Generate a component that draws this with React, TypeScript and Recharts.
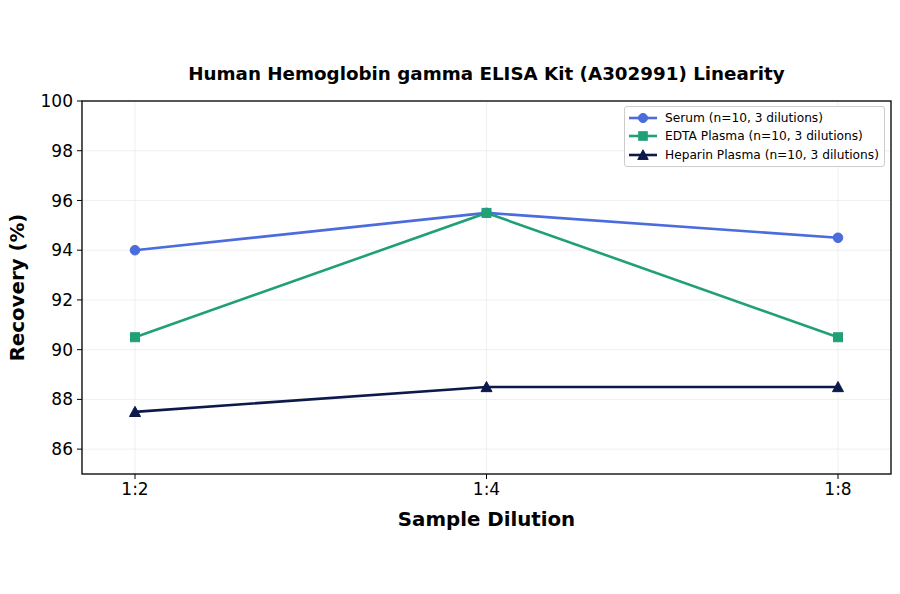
import React from 'react';
import { LineChart, Line, XAxis, YAxis, CartesianGrid, Label } from 'recharts';

const categories = ['1:2', '1:4', '1:8'];
const serum = [94.0, 95.5, 94.5];
const edta = [90.5, 95.5, 90.5];
const heparin = [87.5, 88.5, 88.5];
const yTicks = [86, 88, 90, 92, 94, 96, 98, 100];

const seriesInfo = [
  { key: 'serum', name: 'Serum (n=10, 3 dilutions)', color: '#4a6cdc', shape: 'circle' },
  { key: 'edta', name: 'EDTA Plasma (n=10, 3 dilutions)', color: '#21a078', shape: 'square' },
  { key: 'heparin', name: 'Heparin Plasma (n=10, 3 dilutions)', color: '#0b1a4a', shape: 'triangle' },
];

const data = categories.map((c, i) => ({ cat: c, serum: serum[i], edta: edta[i], heparin: heparin[i] }));

const FONT = 'DejaVu Sans, sans-serif';

function Marker({ cx, cy, shape, color, size = 1 }: any) {
  if (cx == null || cy == null) return null;
  if (shape === 'circle') return <circle cx={cx} cy={cy} r={4.8 * size} fill={color} stroke={color} />;
  if (shape === 'square') {
    const s = 4.5 * size;
    return <rect x={cx - s} y={cy - s} width={2 * s} height={2 * s} fill={color} stroke={color} />;
  }
  const s = 5.5 * size;
  return <polygon points={`${cx},${cy - s} ${cx - s},${cy + s * 0.85} ${cx + s},${cy + s * 0.85}`} fill={color} stroke={color} />;
}

function LegendBox() {
  return (
    <div style={{ position: 'absolute', left: 624, top: 106, zIndex: 5, border: '1px solid #cccccc', borderRadius: 3, background: 'rgba(255,255,255,0.9)', padding: '2px 5px 2px 3px', fontFamily: FONT, fontSize: 12.2, color: '#000', lineHeight: '18.3px' }}>
      {seriesInfo.map((s) => (
        <div key={s.key} style={{ display: 'flex', alignItems: 'center', whiteSpace: 'nowrap' }}>
          <svg width={30} height={14} style={{ marginRight: 7 }}>
            <line x1={1} y1={7} x2={29} y2={7} stroke={s.color} strokeWidth={2.6} />
            <Marker cx={15} cy={7} shape={s.shape} color={s.color} size={0.95} />
          </svg>
          <span>{s.name}</span>
        </div>
      ))}
    </div>
  );
}

export default function App() {
  return (
    <div style={{ position: 'absolute', left: 0, top: 0, width: 900, height: 594, background: '#fff' }}>
      <div style={{ position: 'absolute', left: 82, width: 809, top: 63, textAlign: 'center', fontFamily: FONT, fontWeight: 'bold', fontSize: 18.3, color: '#000' }}>
        Human Hemoglobin gamma ELISA Kit (A302991) Linearity
      </div>
      <LineChart width={900} height={594} data={data} margin={{ top: 101, right: 9, left: 0, bottom: 0 }}>
        <CartesianGrid stroke="#ebebeb" strokeWidth={0.8} vertical={true} horizontal={true} />
        <XAxis
          dataKey="cat"
          type="category"
          padding={{ left: 53, right: 53 }}
          height={120}
          tick={{ fontFamily: FONT, fontSize: 17, fill: '#000' }}
          tickLine={{ stroke: '#000', strokeWidth: 1 }}
          tickSize={5}
          tickMargin={4}
          axisLine={false}
        >
          <Label value="Sample Dilution" position="insideTop" offset={38} style={{ fontFamily: FONT, fontWeight: 'bold', fontSize: 19.8, fill: '#000' }} />
        </XAxis>
        <YAxis
          domain={[85, 100]}
          ticks={yTicks}
          type="number"
          width={82}
          interval={0}
          tick={{ fontFamily: FONT, fontSize: 17, fill: '#000' }}
          tickLine={{ stroke: '#000', strokeWidth: 1 }}
          tickSize={5}
          tickMargin={4}
          axisLine={false}
        >
          <Label value="Recovery (%)" angle={-90} position="insideLeft" offset={17} style={{ fontFamily: FONT, fontWeight: 'bold', fontSize: 19.8, fill: '#000', textAnchor: 'middle' }} />
        </YAxis>
        {seriesInfo.map((s) => (
          <Line
            key={s.key}
            dataKey={s.key}
            name={s.name}
            stroke={s.color}
            strokeWidth={2.6}
            isAnimationActive={false}
            dot={(p: any) => <Marker key={`${s.key}-${p.index}`} cx={p.cx} cy={p.cy} shape={s.shape} color={s.color} />}
            activeDot={false}
          />
        ))}
        <rect x={82} y={101} width={809} height={373} fill="none" stroke="#000" strokeWidth={1.3} />
      </LineChart>
      <LegendBox />
    </div>
  );
}
